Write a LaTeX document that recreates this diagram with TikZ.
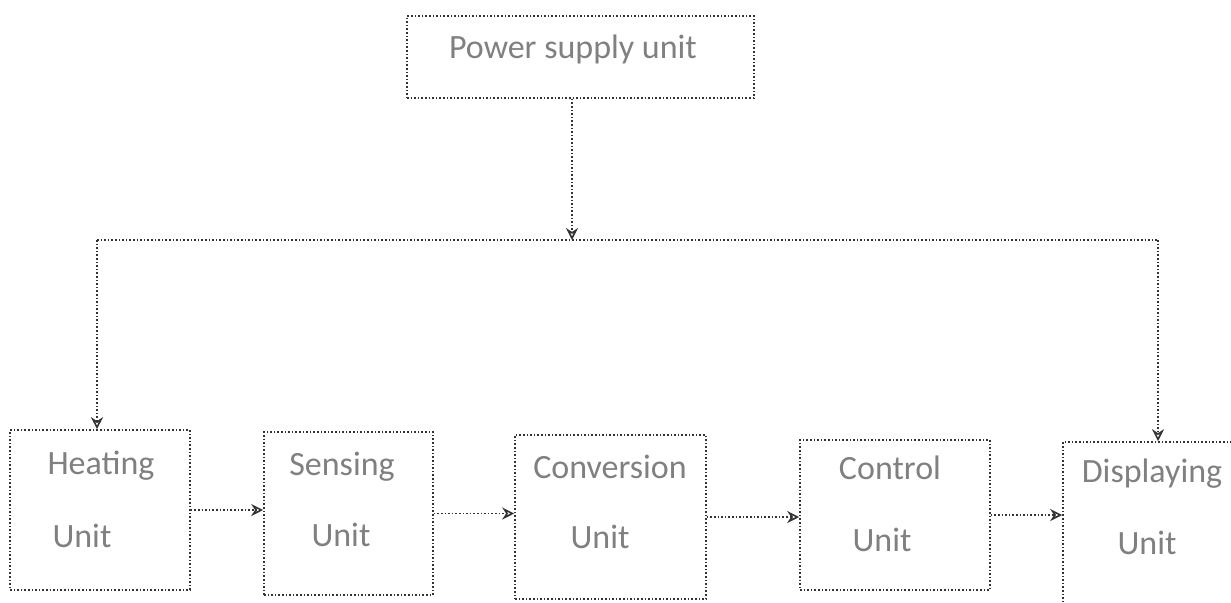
\documentclass[tikz,border=0pt]{standalone}
\usepackage{fontspec}
\setmainfont{Carlito}
\usetikzlibrary{arrows.meta}
\tikzset{
  blockline/.style={draw=black!80,densely dotted,line width=0.8pt},
  unitbox/.style={blockline,rectangle,inner sep=0pt},
  unitlabel/.style={text=black!50,font=\fontsize{17}{20}\selectfont,inner sep=0pt},
  feed/.style={blockline,-{Stealth[length=6pt,width=6pt,open]}}
}
\begin{document}
\begin{tikzpicture}[x=0.5pt,y=-0.5pt]
\clip (0,0) rectangle (1231,602);
\node[unitbox,minimum width=173.5pt,minimum height=41pt] (power) at (580.5,57) {};
\node[unitlabel] (powertxt) at (573,49) {Power supply unit};
\node[unitbox,minimum width=90pt,minimum height=80pt] (heat) at (100,510) {};
\node[unitbox,minimum width=84.5pt,minimum height=81.5pt] (sens) at (348.5,513.5) {};
\node[unitbox,minimum width=95.5pt,minimum height=82pt] (conv) at (610.5,517) {};
\node[unitbox,minimum width=95pt,minimum height=75pt] (ctrl) at (895,515) {};
\node[unitbox,minimum width=90pt,minimum height=88pt] (disp) at (1153,530) {};
\node[unitlabel] (heattop) at (101,466) {Heating};
\node[unitlabel] (heatbot) at (82,536) {Unit};
\node[unitlabel] (senstop) at (342,467) {Sensing};
\node[unitlabel] (sensbot) at (341,535) {Unit};
\node[unitlabel] (convtop) at (610,467) {Conversion};
\node[unitlabel] (convbot) at (600,537) {Unit};
\node[unitlabel] (ctrltop) at (890,468) {Control};
\node[unitlabel] (ctrlbot) at (882,540) {Unit};
\node[unitlabel] (disptop) at (1152,474) {Displaying};
\node[unitlabel] (dispbot) at (1147,543) {Unit};
\coordinate (split) at (572,240);
\coordinate (lbus) at (97,240);
\coordinate (rbus) at (1158,240);
\draw[feed] (split |- power.south) -- (split);
\draw[blockline] (lbus) -- (rbus);
\draw[feed] (lbus) -- (lbus |- heat.north);
\draw[feed] (rbus) -- (rbus |- disp.north);
\draw[feed] (heat.east) -- (heat.east -| sens.west);
\draw[feed] (sens.east) -- (sens.east -| conv.west);
\draw[feed] (conv.east) -- (conv.east -| ctrl.west);
\draw[feed] (ctrl.east) -- (ctrl.east -| disp.west);
\end{tikzpicture}
\end{document}
